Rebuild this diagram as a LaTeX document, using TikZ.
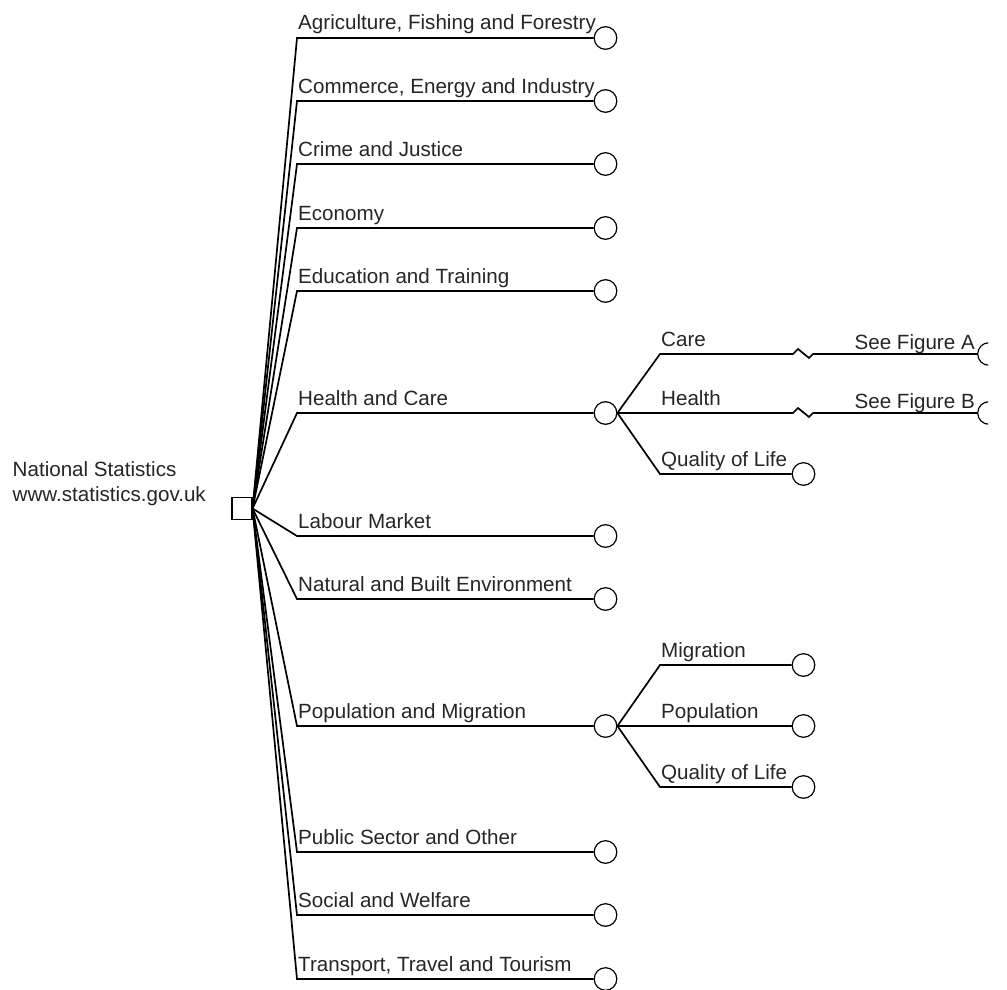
\documentclass[tikz,border=0pt]{standalone}
\usepackage{fontspec}
\setmainfont{Liberation Sans}
\usetikzlibrary{positioning,calc}

\tikzset{
  leaf/.style={circle,draw,line width=1.2pt,minimum size=22.6pt,inner sep=0pt},
  rootbox/.style={rectangle,draw,line width=1.1pt,minimum width=20pt,minimum height=22pt,inner sep=0pt},
  lbl/.style={anchor=base west,inner sep=0pt,font=\fontsize{20.6}{25}\selectfont,text=black!85},
  link/.style={line width=1.7pt,line join=miter}
}

\begin{document}
\begin{tikzpicture}[x=1pt,y=-1pt]
\useasboundingbox (0,0) rectangle (1007,990);
\node (root) [rootbox] at (242,508.5) {};
\node (rootname) [lbl] at (12.5,476) {National Statistics};
\node (rooturl) [lbl] at (12.5,501.7) {www.statistics.gov.uk};
\foreach \n/\y/\t in {agr/38/{Agriculture, Fishing and Forestry},
    com/101/{Commerce, Energy and Industry},
    cri/164/Crime and Justice,
    eco/228/Economy,
    edu/291/Education and Training,
    hc/413/Health and Care,
    lab/536/Labour Market,
    nat/599/Natural and Built Environment,
    pm/726/Population and Migration,
    pub/852/Public Sector and Other,
    soc/915/Social and Welfare,
    tra/979/{Transport, Travel and Tourism}} {
    \coordinate (e-\n) at (297,\y);
    \node (c-\n) [leaf] at (605.5,\y) {};
    \node (t-\n) [lbl] at (298,\y-8) {\t};
    \draw[link] (root.east) -- (e-\n) -- (c-\n.west);
}
\foreach \n/\y/\t/\f in {care/354/Care/A, hlth/413/Health/B} {
    \coordinate (e-\n) at (660,\y);
    \begin{scope}
        \clip (0,0) rectangle (988,990);
        \node (c-\n) [leaf] at (989,\y) {};
    \end{scope}
    \node (t-\n) [lbl] at (661,\y-8) {\t};
    \node (f-\n) [lbl,anchor=base east] at (975,\y-5) {See Figure \f};
    \draw[link] (c-hc.east) -- (e-\n) -- ++(133,0) -- ++(5,-5) -- ++(11,9) -- ++(4,-4) -- (c-\n.west);
}
\foreach \n/\p/\y/\t in {hq/hc/474/Quality of Life,
    mig/pm/665/Migration,
    pop/pm/726/Population,
    pq/pm/787/Quality of Life} {
    \coordinate (e-\n) at (660,\y);
    \node (c-\n) [leaf] at (803.5,\y) {};
    \node (t-\n) [lbl] at (661,\y-8) {\t};
    \draw[link] (c-\p.east) -- (e-\n) -- (c-\n.west);
}
\end{tikzpicture}
\end{document}
